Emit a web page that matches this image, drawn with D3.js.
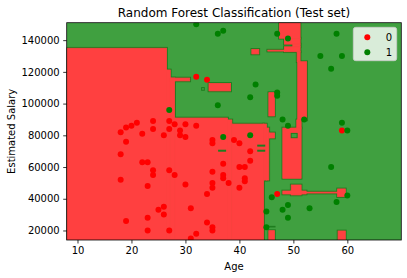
<!DOCTYPE html>
<html>
<head>
<meta charset="utf-8">
<script src="https://cdn.jsdelivr.net/npm/d3@7"></script>
<style>
    body { margin: 0; background: #ffffff; }
    text { font-family: "DejaVu Sans", sans-serif; fill: #000; }
</style>
</head>
<body>
<svg id="chart" width="407" height="278"></svg>
<script>
'use strict';

const title = 'Random Forest Classification (Test set)';
const ageDomain = [8, 70];
const salaryDomain = [14000, 151000];
const ageTicks = [10, 20, 30, 40, 50, 60];
const salaryTicks = [20000, 40000, 60000, 80000, 100000, 120000, 140000];
const classLabels = ['0', '1'];

// test set points: [age, estimated salary]
const purchasedNo = [
    [18, 82000], [19, 85000], [20, 86000], [21, 88000], [24, 89000], [27, 89000],
    [28, 87000], [30, 87000], [32, 86000], [24, 84000], [27, 84000], [22, 81000],
    [26, 80000], [29, 83000], [29, 80000], [30, 79000], [19, 76000], [18, 68000],
    [22, 63000], [23, 63000], [24, 58000], [24, 55000], [27, 58000], [28, 55000],
    [18, 52000], [23, 48000], [30, 49000], [34, 43000], [35, 50000], [35, 47000],
    [37, 55000], [37, 53000], [38, 50000], [40, 47000], [37, 62000], [35, 57000],
    [40, 60000], [41, 60000], [35, 77000], [35, 75000], [39, 77000], [40, 75000],
    [26, 35000], [25, 33000], [26, 30000], [31, 34000], [19, 26000], [23, 28000],
    [23, 20000], [27, 20000], [34, 25000], [35, 22000], [35, 20000], [32, 18000],
    [31, 15000], [42, 70000], [42, 64000], [41, 53000], [41, 51000], [47, 43000],
    [59, 83000], [32, 117000], [34, 115000]
];
const purchasedYes = [
    [32, 150000], [36, 144000], [37, 146000], [47, 144000], [49, 141000], [58, 144000],
    [55, 130000], [59, 130000], [57, 122000], [43, 112000], [42, 104000], [47, 107000],
    [47, 105000], [36, 99000], [27, 96000], [48, 90000], [49, 86000], [52, 90000],
    [59, 88000], [60, 83000], [37, 79000], [42, 80000], [57, 60000], [60, 42000],
    [58, 38000], [46, 41000], [49, 36000], [48, 33000], [45, 32000], [49, 28000],
    [53, 34000], [45, 22000]
];

// predicted class 0 cells: [age from, age to, salary from, salary to]
const redRegions = [
    [8, 26.5, 14000, 134900],
    [26.5, 27.2, 14000, 121200],
    [27.2, 30.8, 114300, 116100],
    [27.2, 28.0, 14000, 116100],
    [28.0, 37.8, 14000, 90900],
    [37.8, 38.6, 14000, 89700],
    [38.6, 44.5, 14000, 87100],
    [44.5, 45.0, 51800, 87100],
    [45.0, 45.45, 51800, 84600],
    [45.45, 46.5, 78300, 81500],
    [34.36, 38.37, 108000, 112700],
    [42.3, 43.6, 131300, 134200],
    [45.26, 48.35, 133100, 133700],
    [45.45, 46.5, 92200, 106900],
    [47.4, 51.25, 141200, 151000],
    [48.35, 51.25, 137500, 141200],
    [49.9, 51.25, 135800, 137500],
    [48.35, 51.25, 132700, 135800],
    [50.7, 51.25, 126400, 132700],
    [50.81, 52.47, 89700, 126400],
    [50.63, 51.44, 84600, 89700],
    [48.04, 51.44, 52900, 84600],
    [49.6, 51.44, 42400, 48700],
    [48.04, 52.36, 43000, 44900],
    [52.36, 58.2, 43600, 44200],
    [58.2, 59.63, 41300, 46200],
    [58.28, 59.63, 14000, 19700],
    [45.45, 46.5, 14000, 19900]
];

// predicted class 1 cells left inside the red area
const greenRegions = [
    [43.4, 44.7, 73200, 73800],
    [43.4, 44.7, 70000, 70600],
    [36.15, 37.45, 70000, 70600],
    [49.6, 50.7, 78500, 81200],
    [33.0, 33.5, 108400, 110100],
    [45.45, 46.6, 22200, 22600]
];

const margin = {top: 22.7, left: 66.7, right: 5.7, bottom: 38};
const width = 407 - margin.left - margin.right;
const height = 278 - margin.top - margin.bottom;

const colors = {
    red: '#ff4040',
    green: '#40a040',
    edge: '#1f7d1f',
    point0: '#ff0000',
    point1: '#008000'
};

const svg = d3.select('#chart');

const x = d3.scaleLinear().domain(ageDomain).range([0, width]);
const y = d3.scaleLinear().domain(salaryDomain).range([height, 0]);

svg.append('defs').append('clipPath')
    .attr('id', 'plot-clip')
    .append('rect')
    .attr('width', width)
    .attr('height', height);

const plot = svg.append('g')
    .attr('transform', 'translate(' + margin.left + ',' + margin.top + ')');

const area = plot.append('g').attr('clip-path', 'url(#plot-clip)');

area.append('rect')
    .attr('width', width)
    .attr('height', height)
    .style('fill', colors.green);

function cellRects(group, data, fill, stroke, strokeWidth) {
    group.selectAll('rect')
        .data(data)
        .enter().append('rect')
        .attr('x', function (d) { return x(d[0]); })
        .attr('y', function (d) { return y(d[3]); })
        .attr('width', function (d) { return x(d[1]) - x(d[0]); })
        .attr('height', function (d) { return y(d[2]) - y(d[3]); })
        .style('fill', fill)
        .style('stroke', stroke)
        .style('stroke-width', strokeWidth);
}

// outline pass first, fill pass on top keeps only the outer edge
cellRects(area.append('g'), redRegions, colors.red, colors.edge, 2.6);
cellRects(area.append('g'), redRegions, colors.red, colors.red, 0.8);
cellRects(area.append('g'), greenRegions, colors.green, colors.edge, 1);

let pointGroup = area.append('g');
[purchasedNo, purchasedYes].forEach(function (set, i) {
    pointGroup.append('g').selectAll('circle')
        .data(set)
        .enter().append('circle')
        .attr('cx', function (d) { return x(d[0]); })
        .attr('cy', function (d) { return y(d[1]); })
        .attr('r', 3)
        .style('fill', i === 0 ? colors.point0 : colors.point1);
});

// axes
let xAxis = plot.append('g')
    .attr('transform', 'translate(0,' + height + ')')
    .call(d3.axisBottom(x).tickValues(ageTicks).tickSize(3.5).tickPadding(3.5));

let yAxis = plot.append('g')
    .call(d3.axisLeft(y).tickValues(salaryTicks).tickSize(3.5).tickPadding(3.5)
        .tickFormat(d3.format('d')));

[xAxis, yAxis].forEach(function (axis) {
    axis.select('.domain').remove();
    axis.selectAll('line').style('stroke', '#000').style('stroke-width', 0.8);
    axis.selectAll('text')
        .style('font-size', '10px')
        .style('font-family', '"DejaVu Sans", sans-serif')
        .style('fill', '#000');
});

plot.append('rect')
    .attr('width', width)
    .attr('height', height)
    .style('fill', 'none')
    .style('stroke', '#000')
    .style('stroke-width', 0.8);

// titles
svg.append('text')
    .text(title)
    .attr('x', margin.left + width / 2)
    .attr('y', 17)
    .style('font-size', '12px')
    .style('text-anchor', 'middle');

svg.append('text')
    .text('Age')
    .attr('x', margin.left + width / 2)
    .attr('y', 269.5)
    .style('font-size', '10px')
    .style('text-anchor', 'middle');

svg.append('text')
    .text('Estimated Salary')
    .attr('transform', 'translate(14.5,' + (margin.top + height / 2) + ') rotate(-90)')
    .style('font-size', '10px')
    .style('text-anchor', 'middle');

// legend
let legend = svg.append('g').attr('transform', 'translate(353.3,27.3)');

legend.append('rect')
    .attr('width', 43.4)
    .attr('height', 33.4)
    .attr('rx', 2.5)
    .style('fill', '#ffffff')
    .style('fill-opacity', 0.8)
    .style('stroke', '#cccccc')
    .style('stroke-width', 0.8);

classLabels.forEach(function (label, i) {
    legend.append('circle')
        .attr('cx', 14)
        .attr('cy', 10 + i * 15)
        .attr('r', 3)
        .style('fill', i === 0 ? colors.point0 : colors.point1);
    legend.append('text')
        .text(label)
        .attr('x', 32.5)
        .attr('y', 13.6 + i * 15)
        .style('font-size', '10px');
});
</script>
</body>
</html>
